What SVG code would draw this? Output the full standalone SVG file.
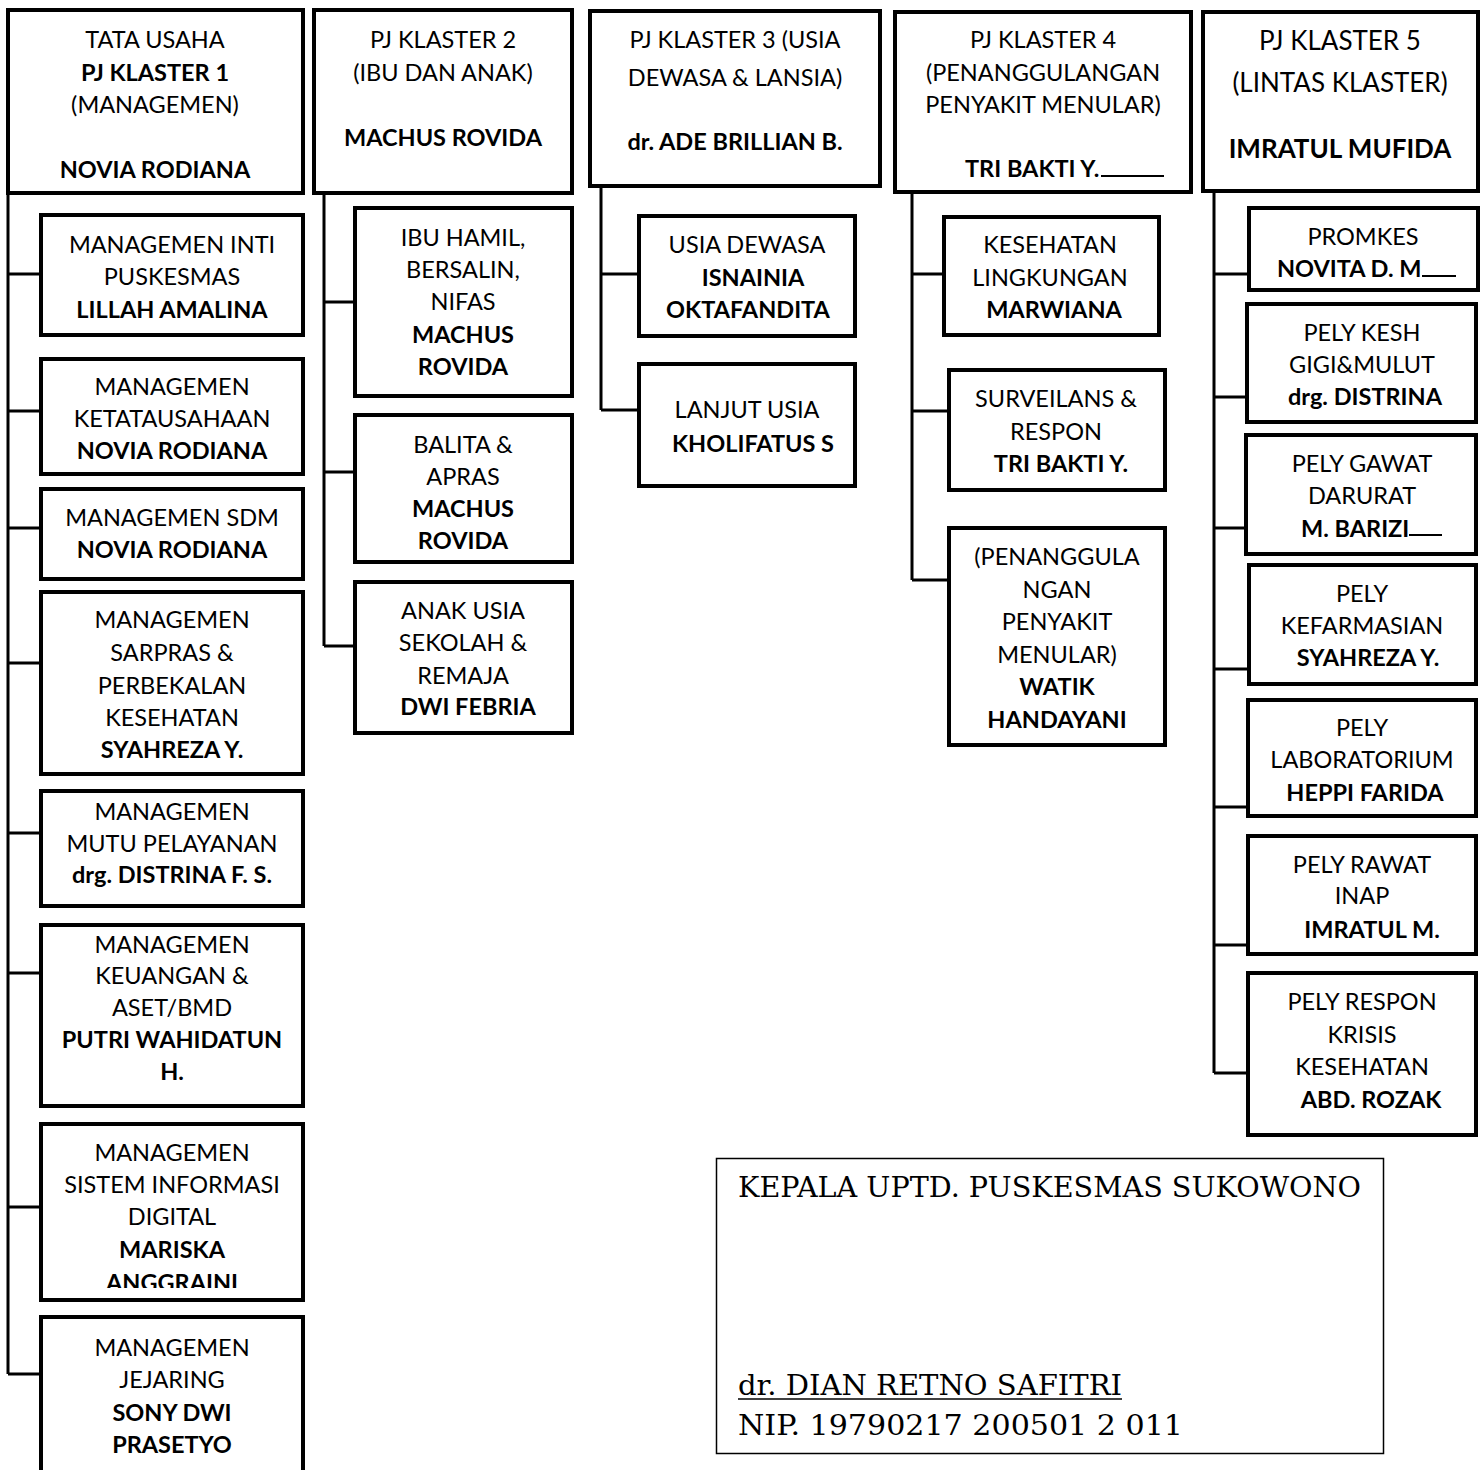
<svg xmlns="http://www.w3.org/2000/svg" width="1483" height="1470" viewBox="0 0 1483 1470">
<style>
.box{fill:#fff;stroke:#000;stroke-width:4}
.ln{fill:none;stroke:#000;stroke-width:3}
.ul{stroke:#000;stroke-width:2.2}
text{font-family:Lato,"Open Sans",sans-serif;font-size:23.5px;fill:#000;text-anchor:middle}
.b{font-weight:bold}
.big{font-size:26px}
.sig{font-family:"DejaVu Serif","Liberation Serif",serif;font-size:28px;text-anchor:start}
</style>
<defs>
<clipPath id="clip7"><rect x="41" y="1124" width="262" height="164"/></clipPath>
</defs>
<rect x="0" y="0" width="1483" height="1470" fill="#fff"/>

<g id="connectors">
<path class="ln" d="M8,195 V1374 M8,274 H41 M8,411 H41 M8,528 H41 M8,663 H41 M8,833 H41 M8,973 H41 M8,1207 H41 M8,1374 H41"/>
<path class="ln" d="M324,195 V646 M324,302 H355 M324,472 H355 M324,646 H355"/>
<path class="ln" d="M601,188 V410 M601,274 H639 M601,410 H639"/>
<path class="ln" d="M912,194 V580 M912,274 H944 M912,411 H949 M912,580 H949"/>
<path class="ln" d="M1214,193 V1073 M1214,274 H1249 M1214,397 H1247 M1214,528 H1246 M1214,669 H1249 M1214,807 H1248 M1214,945 H1248 M1214,1073 H1248"/>
</g>

<g id="h1">
<rect class="box" x="8" y="10" width="295" height="183"/>
<text x="155" y="48">TATA USAHA</text>
<text x="155" y="81" class="b">PJ KLASTER 1</text>
<text x="155" y="113">(MANAGEMEN)</text>
<text x="155" y="178" class="b">NOVIA RODIANA</text>
</g>
<g id="h2">
<rect class="box" x="314" y="10" width="258" height="183"/>
<text x="443" y="48">PJ KLASTER 2</text>
<text x="443" y="81">(IBU DAN ANAK)</text>
<text x="443" y="146" class="b">MACHUS ROVIDA</text>
</g>
<g id="h3">
<rect class="box" x="590" y="11" width="290" height="175"/>
<text x="735" y="48">PJ KLASTER 3 (USIA</text>
<text x="735" y="86">DEWASA &amp; LANSIA)</text>
<text x="735" y="150" class="b">dr. ADE BRILLIAN B.</text>
</g>
<g id="h4">
<rect class="box" x="895" y="12" width="296" height="180"/>
<text x="1043" y="48">PJ KLASTER 4</text>
<text x="1043" y="81">(PENANGGULANGAN</text>
<text x="1043" y="113">PENYAKIT MENULAR)</text>
<text x="965" y="177" class="b" style="text-anchor:start">TRI BAKTI Y.</text>
<line class="ul" x1="1101" y1="176" x2="1164" y2="176"/>
</g>
<g id="h5">
<rect class="box" x="1203" y="12" width="275" height="179"/>
<text x="1340" y="50" class="big">PJ KLASTER 5</text>
<text x="1340" y="92" class="big">(LINTAS KLASTER)</text>
<text x="1340" y="158" class="big b">IMRATUL MUFIDA</text>
</g>

<g id="c1-1">
<rect class="box" x="41" y="215" width="262" height="120"/>
<text x="172" y="253">MANAGEMEN INTI</text>
<text x="172" y="285">PUSKESMAS</text>
<text x="172" y="318" class="b">LILLAH AMALINA</text>
</g>
<g id="c1-2">
<rect class="box" x="41" y="359" width="262" height="115"/>
<text x="172" y="395">MANAGEMEN</text>
<text x="172" y="427">KETATAUSAHAAN</text>
<text x="172" y="459" class="b">NOVIA RODIANA</text>
</g>
<g id="c1-3">
<rect class="box" x="41" y="489" width="262" height="90"/>
<text x="172" y="526">MANAGEMEN SDM</text>
<text x="172" y="558" class="b">NOVIA RODIANA</text>
</g>
<g id="c1-4">
<rect class="box" x="41" y="592" width="262" height="182"/>
<text x="172" y="628">MANAGEMEN</text>
<text x="172" y="661">SARPRAS &amp;</text>
<text x="172" y="694">PERBEKALAN</text>
<text x="172" y="726">KESEHATAN</text>
<text x="172" y="758" class="b">SYAHREZA Y.</text>
</g>
<g id="c1-5">
<rect class="box" x="41" y="791" width="262" height="115"/>
<text x="172" y="820">MANAGEMEN</text>
<text x="172" y="852">MUTU PELAYANAN</text>
<text x="172" y="883" class="b">drg. DISTRINA F. S.</text>
</g>
<g id="c1-6">
<rect class="box" x="41" y="925" width="262" height="181"/>
<text x="172" y="953">MANAGEMEN</text>
<text x="172" y="984">KEUANGAN &amp;</text>
<text x="172" y="1016">ASET/BMD</text>
<text x="172" y="1048" class="b">PUTRI WAHIDATUN</text>
<text x="172" y="1080" class="b">H.</text>
</g>
<g id="c1-7">
<rect class="box" x="41" y="1124" width="262" height="176"/>
<text x="172" y="1161">MANAGEMEN</text>
<text x="172" y="1193">SISTEM INFORMASI</text>
<text x="172" y="1225">DIGITAL</text>
<text x="172" y="1258" class="b">MARISKA</text>
<text x="172" y="1291" class="b" clip-path="url(#clip7)">ANGGRAINI</text>
</g>
<g id="c1-8">
<rect class="box" x="41" y="1317" width="262" height="200"/>
<text x="172" y="1356">MANAGEMEN</text>
<text x="172" y="1388">JEJARING</text>
<text x="172" y="1421" class="b">SONY DWI</text>
<text x="172" y="1453" class="b">PRASETYO</text>
</g>

<g id="c2-1">
<rect class="box" x="355" y="208" width="217" height="188"/>
<text x="463" y="246">IBU HAMIL,</text>
<text x="463" y="278">BERSALIN,</text>
<text x="463" y="310">NIFAS</text>
<text x="463" y="343" class="b">MACHUS</text>
<text x="463" y="375" class="b">ROVIDA</text>
</g>
<g id="c2-2">
<rect class="box" x="355" y="415" width="217" height="147"/>
<text x="463" y="453">BALITA &amp;</text>
<text x="463" y="485">APRAS</text>
<text x="463" y="517" class="b">MACHUS</text>
<text x="463" y="549" class="b">ROVIDA</text>
</g>
<g id="c2-3">
<rect class="box" x="355" y="582" width="217" height="151"/>
<text x="463" y="619">ANAK USIA</text>
<text x="463" y="651">SEKOLAH &amp;</text>
<text x="463" y="684">REMAJA</text>
<text x="468" y="715" class="b">DWI FEBRIA</text>
</g>

<g id="c3-1">
<rect class="box" x="639" y="216" width="216" height="120"/>
<text x="747" y="253">USIA DEWASA</text>
<text x="753" y="286" class="b">ISNAINIA</text>
<text x="748" y="318" class="b">OKTAFANDITA</text>
</g>
<g id="c3-2">
<rect class="box" x="639" y="364" width="216" height="122"/>
<text x="747" y="418">LANJUT USIA</text>
<text x="753" y="452" class="b">KHOLIFATUS S</text>
</g>

<g id="c4-1">
<rect class="box" x="944" y="217" width="215" height="118"/>
<text x="1050" y="253">KESEHATAN</text>
<text x="1050" y="286">LINGKUNGAN</text>
<text x="1054" y="318" class="b">MARWIANA</text>
</g>
<g id="c4-2">
<rect class="box" x="949" y="370" width="216" height="120"/>
<text x="1056" y="407">SURVEILANS &amp;</text>
<text x="1056" y="440">RESPON</text>
<text x="1061" y="472" class="b">TRI BAKTI Y.</text>
</g>
<g id="c4-3">
<rect class="box" x="949" y="528" width="216" height="217"/>
<text x="1057" y="565">(PENANGGULA</text>
<text x="1057" y="598">NGAN</text>
<text x="1057" y="630">PENYAKIT</text>
<text x="1057" y="663">MENULAR)</text>
<text x="1057" y="695" class="b">WATIK</text>
<text x="1057" y="728" class="b">HANDAYANI</text>
</g>

<g id="c5-1">
<rect class="box" x="1249" y="208" width="229" height="82"/>
<text x="1363" y="245">PROMKES</text>
<text x="1277" y="277" class="b" style="text-anchor:start">NOVITA D. M</text>
<line class="ul" x1="1422" y1="276" x2="1456" y2="276"/>
</g>
<g id="c5-2">
<rect class="box" x="1247" y="304" width="229" height="118"/>
<text x="1362" y="341">PELY KESH</text>
<text x="1362" y="373">GIGI&amp;MULUT</text>
<text x="1365" y="405" class="b">drg. DISTRINA</text>
</g>
<g id="c5-3">
<rect class="box" x="1246" y="435" width="230" height="119"/>
<text x="1362" y="472">PELY GAWAT</text>
<text x="1362" y="504">DARURAT</text>
<text x="1301" y="537" class="b" style="text-anchor:start">M. BARIZI</text>
<line class="ul" x1="1409" y1="535" x2="1442" y2="535"/>
</g>
<g id="c5-4">
<rect class="box" x="1249" y="565" width="227" height="119"/>
<text x="1362" y="602">PELY</text>
<text x="1362" y="634">KEFARMASIAN</text>
<text x="1368" y="666" class="b">SYAHREZA Y.</text>
</g>
<g id="c5-5">
<rect class="box" x="1248" y="700" width="228" height="116"/>
<text x="1362" y="736">PELY</text>
<text x="1362" y="768">LABORATORIUM</text>
<text x="1365" y="801" class="b">HEPPI FARIDA</text>
</g>
<g id="c5-6">
<rect class="box" x="1248" y="836" width="228" height="118"/>
<text x="1362" y="873">PELY RAWAT</text>
<text x="1362" y="904">INAP</text>
<text x="1372" y="938" class="b">IMRATUL M.</text>
</g>
<g id="c5-7">
<rect class="box" x="1248" y="973" width="228" height="162"/>
<text x="1362" y="1010">PELY RESPON</text>
<text x="1362" y="1043">KRISIS</text>
<text x="1362" y="1075">KESEHATAN</text>
<text x="1371" y="1108" class="b">ABD. ROZAK</text>
</g>

<g id="signature">
<rect x="716.5" y="1158.5" width="667" height="295" fill="#fff" stroke="#000" stroke-width="1.5"/>
<text x="738" y="1197" class="sig" textLength="623" lengthAdjust="spacingAndGlyphs">KEPALA UPTD. PUSKESMAS SUKOWONO</text>
<text x="738" y="1395" class="sig" textLength="384" lengthAdjust="spacingAndGlyphs">dr. DIAN RETNO SAFITRI</text>
<line x1="738" y1="1399" x2="1122" y2="1399" stroke="#000" stroke-width="1.6"/>
<text x="738" y="1435" class="sig" textLength="445" lengthAdjust="spacingAndGlyphs">NIP. 19790217 200501 2 011</text>
</g>
</svg>
